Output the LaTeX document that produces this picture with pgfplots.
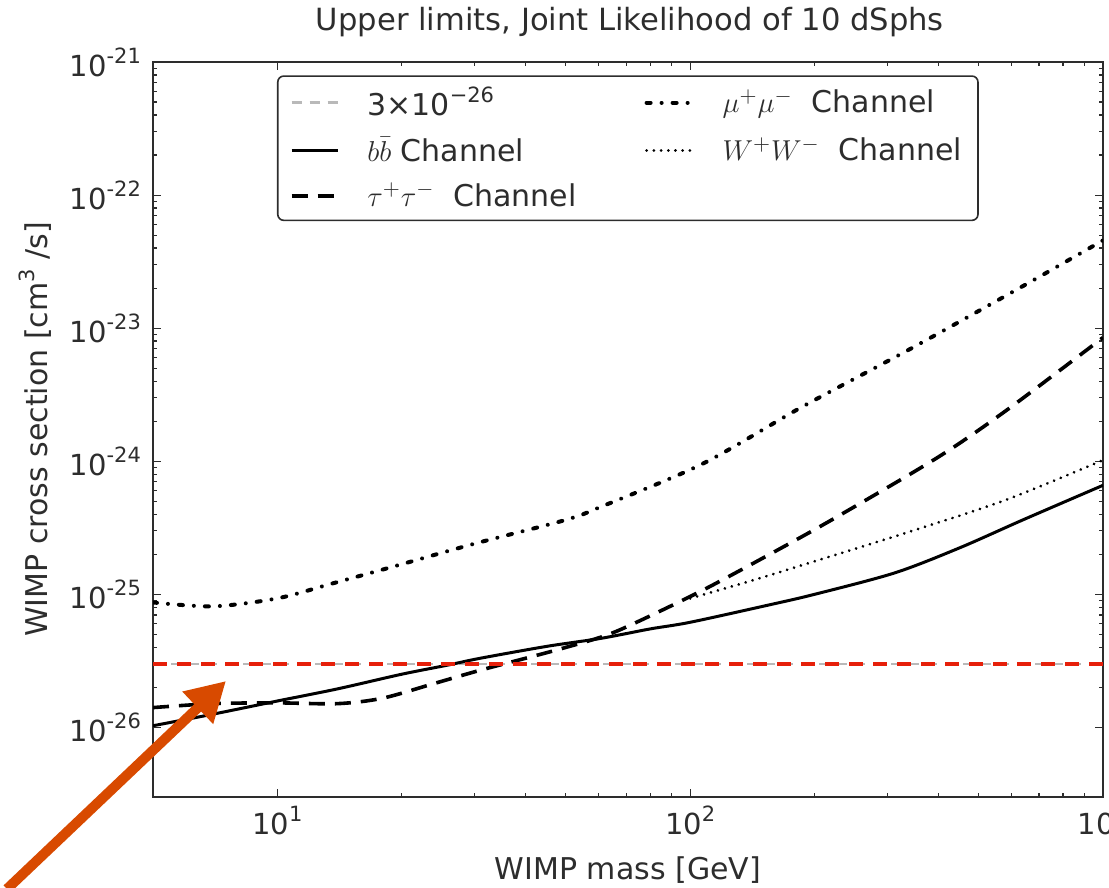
\documentclass[border=0pt]{standalone}
\usepackage{fontspec}
\setmainfont{DejaVu Sans}
\usepackage{pgfplots}
\pgfplotsset{compat=1.18}
\usetikzlibrary{arrows.meta}
\definecolor{txt}{RGB}{45,45,45}
\definecolor{arrowc}{RGB}{216,74,0}
\definecolor{redl}{RGB}{230,32,10}
\newcommand{\tsup}[1]{\raisebox{0.45em}{\fontsize{10.5}{12}\selectfont #1}}
\newcommand{\lsup}[1]{\raisebox{0.42em}{\fontsize{10.5}{11}\selectfont #1}}
\newcommand{\lstr}{\rule[-3.5pt]{0pt}{15pt}}
\begin{document}
\begin{tikzpicture}
\begin{axis}[
  xmode=log, ymode=log,
  width=475pt, height=367.5pt, scale only axis,
  xmin=5, xmax=1000, ymin=3e-27, ymax=1e-21,
  axis line style={txt, line width=0.8pt},
  tick align=inside,
  major tick length=4pt, minor tick length=2pt,
  every tick/.style={txt, line width=0.6pt},
  xtick={10,100,1000},
  xticklabels={10\tsup{1},10\tsup{2},10\tsup{3}},
  ytick={1e-26,1e-25,1e-24,1e-23,1e-22,1e-21},
  yticklabels={10\tsup{-26},10\tsup{-25},10\tsup{-24},10\tsup{-23},10\tsup{-22},10\tsup{-21}},
  ticklabel style={font=\fontsize{14.5}{17}\selectfont, text=txt},
  yticklabel style={xshift=-2.5pt},
  xticklabel style={yshift=-1pt},
  xlabel={WIMP mass [GeV]},
  ylabel={WIMP cross section [cm\lsup{3} /s]},
  label style={font=\fontsize{15}{18}\selectfont, text=txt},
  xlabel style={at={(axis description cs:0.5,-0.0993)}, anchor=center},
  ylabel style={at={(axis description cs:-0.1242,0.5)}, anchor=center},
  title={Upper limits, Joint Likelihood of 10 dSphs},
  title style={at={(axis description cs:0.502,1.038)}, anchor=center, font=\fontsize{15.3}{18}\selectfont, text=txt},
  legend columns=2,
  legend cell align=left,
  legend style={at={(axis description cs:0.1305,0.982)}, anchor=north west,
    draw=txt, line width=0.8pt, rounded corners=3pt,
    font=\fontsize{15}{18}\selectfont, text=txt,
    inner xsep=6pt, inner ysep=3.5pt, row sep=5.5pt,
    nodes={inner sep=2pt},
    /tikz/every even column/.append style={column sep=32pt},
    /tikz/every odd column/.append style={column sep=12pt}},
  legend image code/.code={\draw[#1, rounded corners=0pt] (0pt,0pt) -- (23pt,0pt);},
]
\addplot[gray!55, line width=1.2pt, dash pattern=on 5pt off 4pt] coordinates {(5,3e-26) (1000,3e-26)};
\addlegendentry{\lstr 3×10\lsup{−26}}
\addplot[black, line width=2pt, line cap=round, dash pattern=on 2pt off 5.5pt on 0.01pt off 5.5pt, smooth] coordinates {
(5,8.7e-26) (7,8.13e-26) (10,9.33e-26) (13.5,1.2e-25) (18.6,1.58e-25) (30,2.4e-25) (50,3.63e-25) (61,4.57e-25) (107,9.55e-25) (187,2.57e-24) (344,7.08e-24) (627,2.0e-23) (1000,4.57e-23)};
\addlegendentry{\lstr$\mu^+\mu^-$\ \ Channel}
\addplot[black, line width=1.5pt, smooth] coordinates {
(5,1.03e-26) (7,1.26e-26) (10,1.58e-26) (14,1.95e-26) (20,2.51e-26) (26,2.95e-26) (31,3.31e-26) (45,4.07e-26) (61,4.68e-26) (80,5.5e-26) (100,6.17e-26) (155,8.32e-26) (200,1.0e-25) (313,1.45e-25) (450,2.24e-25) (640,3.63e-25) (1000,6.6e-25)};
\addlegendentry{\lstr$b\bar{b}$ Channel}
\addplot[black, line width=1.5pt, line cap=round, dash pattern=on 0.01pt off 3.6pt, smooth] coordinates {
(100,9.33e-26) (140,1.26e-25) (187,1.66e-25) (331,2.88e-25) (582,5.13e-25) (1000,1.02e-24)};
\addlegendentry{\lstr$W^+W^-$\ \ Channel}
\addplot[black, line width=1.8pt, dash pattern=on 8pt off 5pt, smooth] coordinates {
(5,1.41e-26) (7,1.51e-26) (10,1.53e-26) (14,1.51e-26) (18,1.66e-26) (24,2.14e-26) (31,2.69e-26) (46,3.72e-26) (61,4.79e-26) (73,6.03e-26) (107,1.07e-25) (160,2.09e-25) (226,3.8e-25) (398,1.07e-24) (582,2.4e-24) (1000,8.5e-24)};
\addlegendentry{\lstr$\tau^+\tau^-$\ \ Channel}
\addplot[redl, line width=2pt, dash pattern=on 7pt off 5pt, forget plot] coordinates {(5,3e-26) (1000,3e-26)};
\end{axis}
\draw[arrowc, line width=5pt, -{Triangle[length=19.5pt 0 0, width=21pt 0 0]}] (-73pt,-46pt) -- (36.5pt,58pt);
\pgfresetboundingbox
\path[use as bounding box] (-76.5pt,-45.5pt) rectangle (478pt,398.5pt);
\end{tikzpicture}
\end{document}
